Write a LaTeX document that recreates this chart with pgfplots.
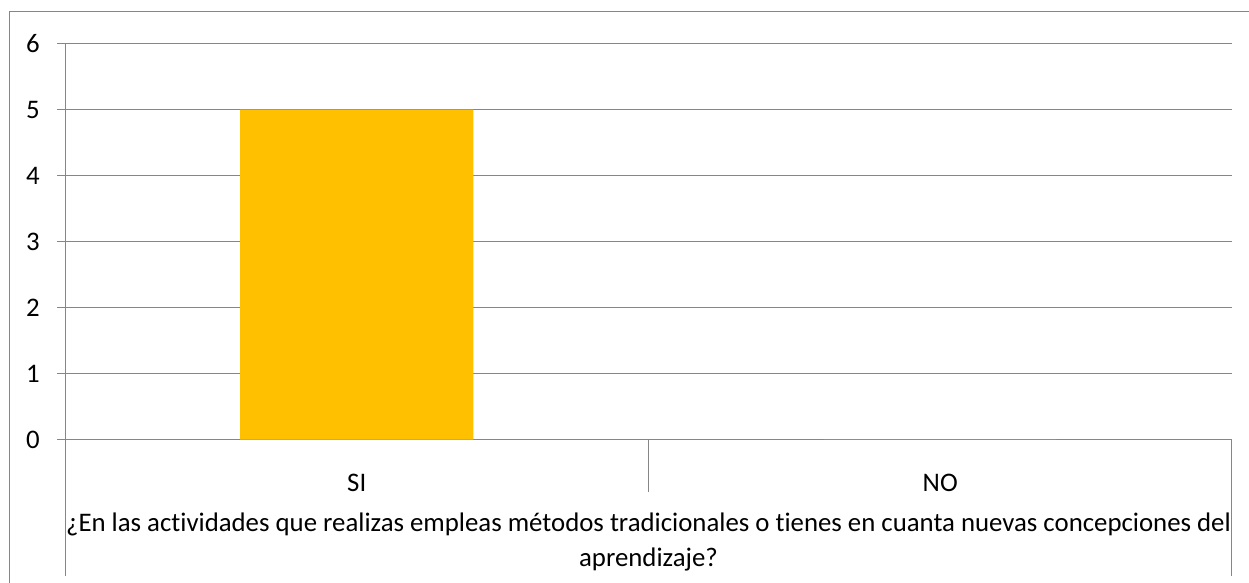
\documentclass[border=0pt]{standalone}
\usepackage{fontspec}
\setmainfont{Carlito}[Ligatures={NoCommon,NoRequired,NoContextual},RawFeature={-liga;-clig;-dlig;-calt}]
\usepackage{pgfplots}
\pgfplotsset{compat=1.18}
\definecolor{gridgray}{HTML}{868686}
\definecolor{barorange}{HTML}{FFC000}
\begin{document}
\begin{tikzpicture}
\useasboundingbox (0bp,0bp) rectangle (1249bp,583bp);
\fill[white] (0bp,0bp) rectangle (1249bp,583bp);
\draw[gridgray,line width=1bp] (9.5bp,0bp) -- (9.5bp,571bp) -- (1249bp,571bp);
\begin{axis}[
  at={(65bp,143.5bp)}, anchor=south west,
  scale only axis, width=1167bp, height=396bp,
  xmin=-0.5, xmax=1.5, ymin=0, ymax=6,
  clip=false,
  axis x line*=bottom, axis y line*=left,
  axis line style={gridgray,line width=1bp},
  ytick={0,1,2,3,4,5,6},
  ymajorgrids, grid style={gridgray,line width=1bp},
  tick align=outside, major tick length=8bp,
  ytick style={gridgray,line width=1bp},
  xtick={0,1}, xticklabels={SI,NO},
  xtick style={draw=none},
  /pgf/number format/assume math mode=true,
  ticklabel style={font=\fontsize{26.8bp}{32bp}\selectfont, text=black},
  yticklabel style={anchor=east, inner sep=0pt, xshift=-17bp},
  xticklabel style={anchor=base, inner sep=0pt, yshift=-43.5bp},
  ybar, bar width=233bp,
]
\addplot[fill=barorange, draw=none] coordinates {(0,5) (1,0)};
\draw[gridgray,line width=1bp] (axis cs:-0.5,0) -- ([yshift=-136bp]axis cs:-0.5,0);
\draw[gridgray,line width=1bp] (axis cs:0.5,0) -- ([yshift=-52bp]axis cs:0.5,0);
\draw[gridgray,line width=1bp] (axis cs:1.5,0) -- ([yshift=-136bp]axis cs:1.5,0);
\node[anchor=base, inner sep=0pt, font=\fontsize{26.8bp}{32bp}\selectfont] at ([yshift=-92bp]axis cs:0.5,0) {¿En las acti\kern0pt vidades que realizas empleas métodos tradicionales o ti\kern0pt enes en cuanta nuevas concepciones del};
\node[anchor=base, inner sep=0pt, font=\fontsize{26.8bp}{32bp}\selectfont] at ([yshift=-127bp]axis cs:0.5,0) {aprendizaje?};
\end{axis}
\end{tikzpicture}
\end{document}
